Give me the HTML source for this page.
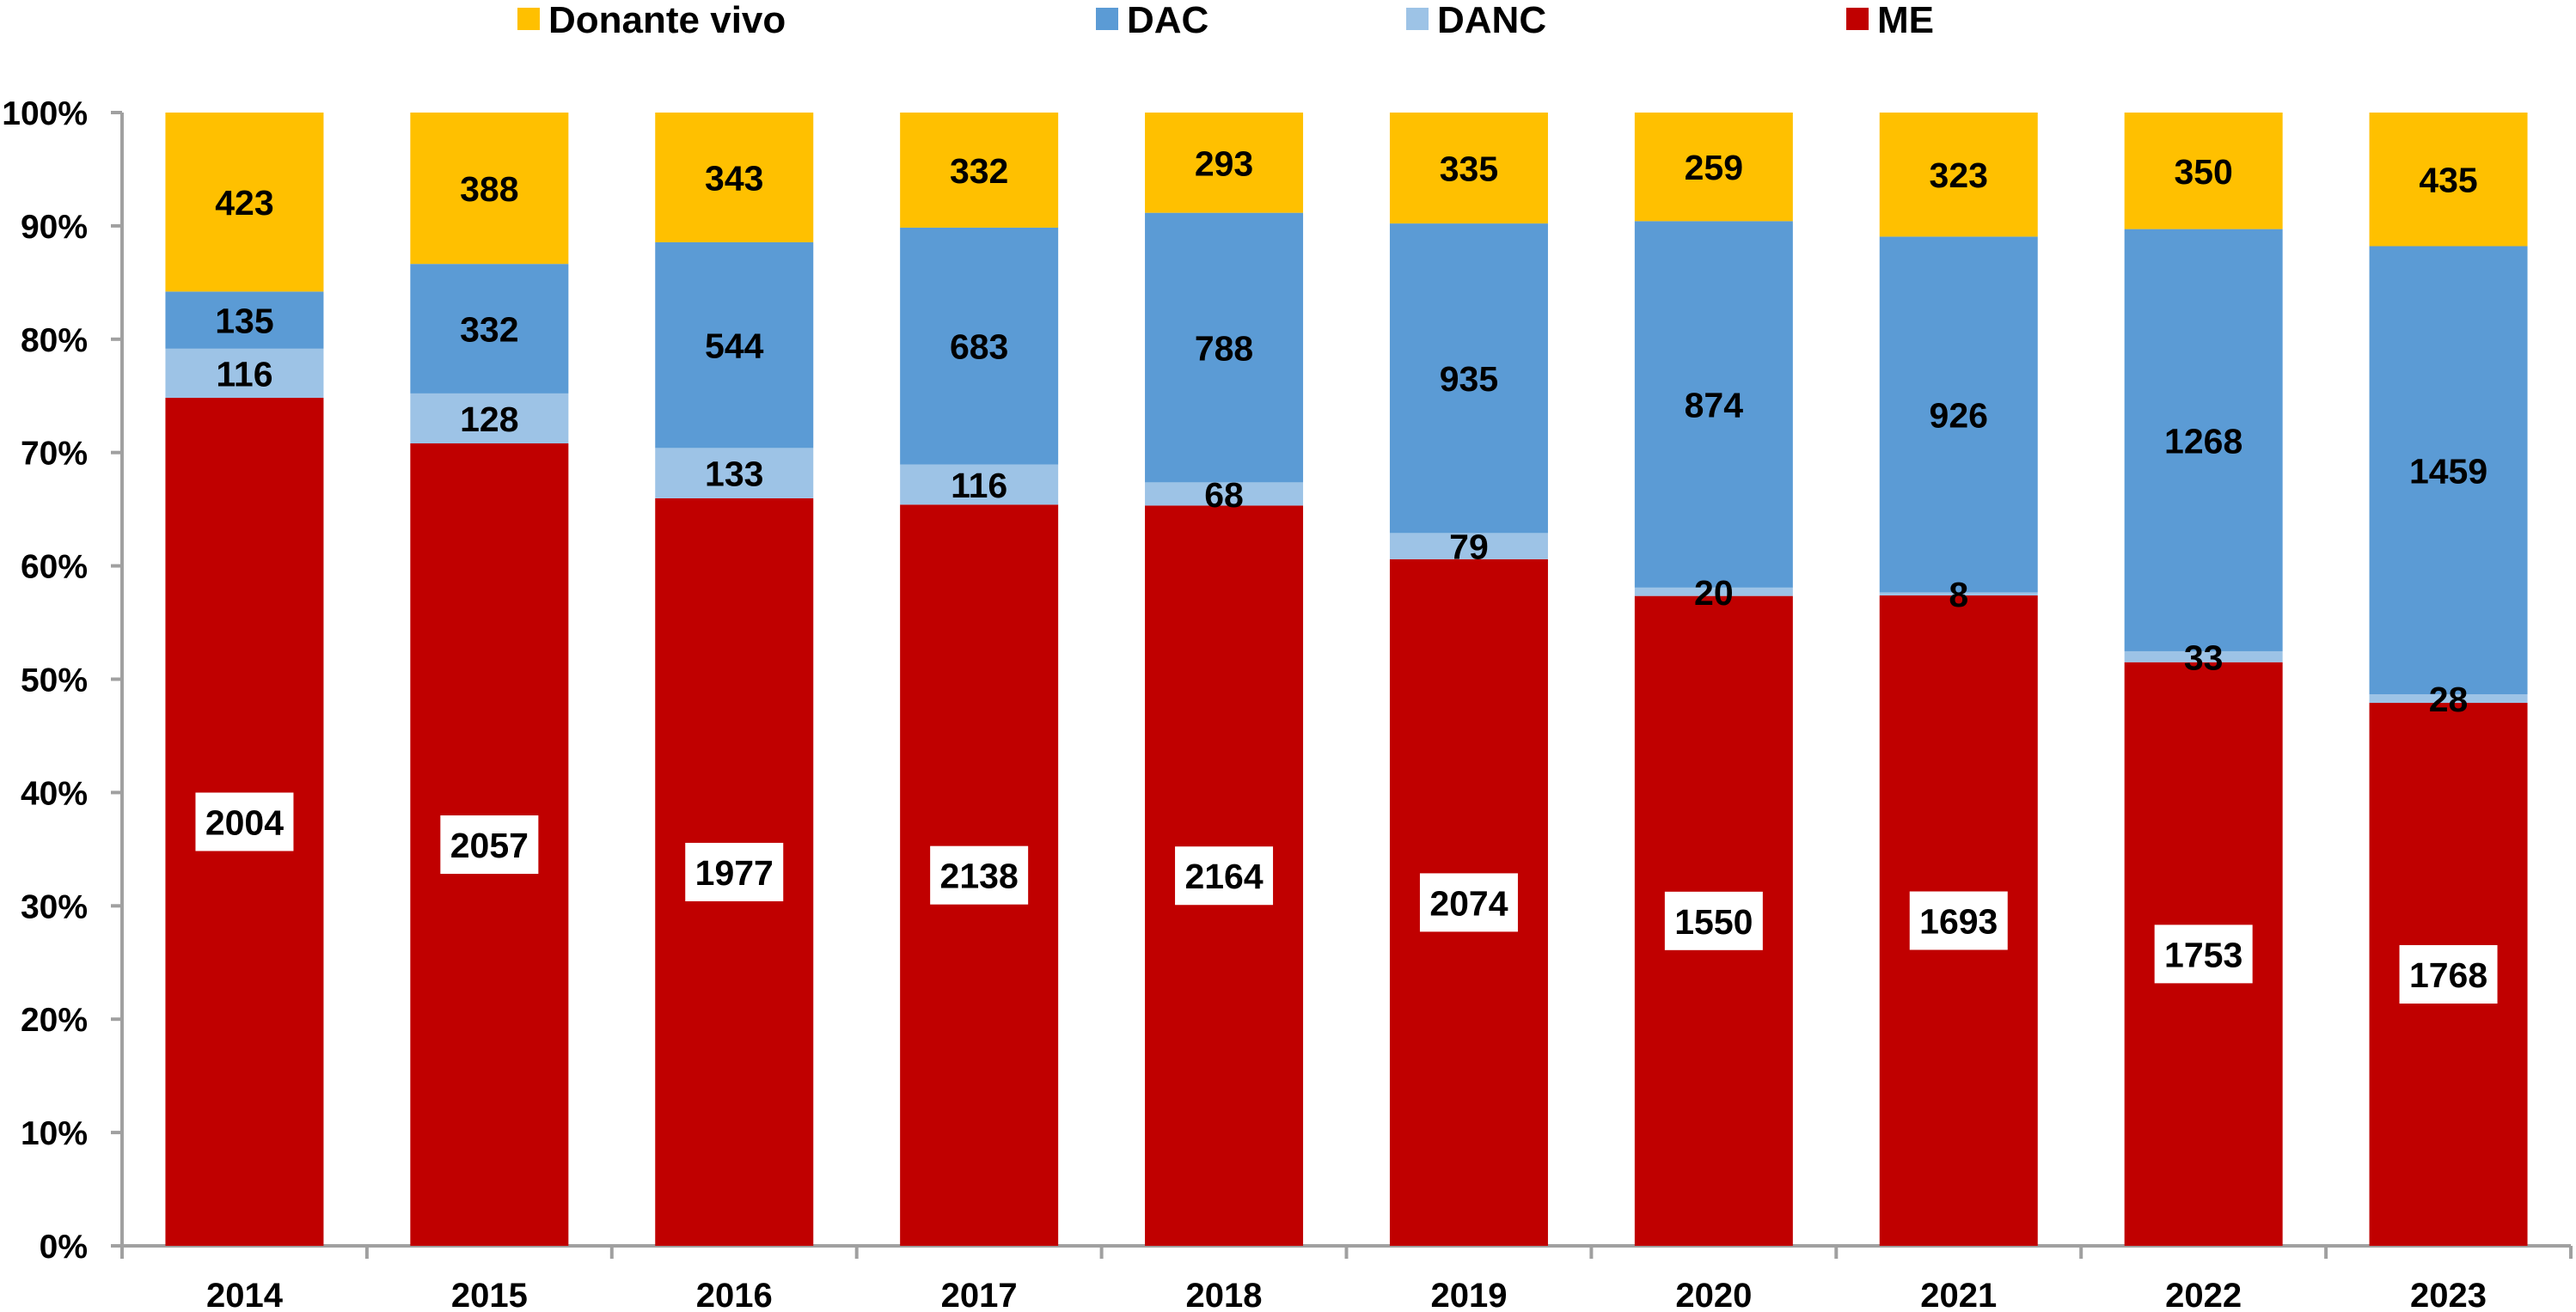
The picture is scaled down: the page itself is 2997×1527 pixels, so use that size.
<!DOCTYPE html>
<html><head><meta charset="utf-8"><style>
html,body{margin:0;padding:0;background:#fff;}
svg{display:block;font-family:"Liberation Sans",sans-serif;font-weight:bold;}
</style></head><body>
<svg id="chart" width="2997" height="1527" viewBox="0 0 2997 1527" xmlns="http://www.w3.org/2000/svg">
<g id="legend"></g>
<g id="axes"></g>
<g id="bars"></g>
<g id="labels"></g>
</svg>
<script>
const years = ["2014","2015","2016","2017","2018","2019","2020","2021","2022","2023"];
const me = [2004,2057,1977,2138,2164,2074,1550,1693,1753,1768];
const danc = [116,128,133,116,68,79,20,8,33,28];
const dac = [135,332,544,683,788,935,874,926,1268,1459];
const vivo = [423,388,343,332,293,335,259,323,350,435];
const yTicks = [0,10,20,30,40,50,60,70,80,90,100];
const seriesNames = ["Donante vivo","DAC","DANC","ME"];

const NS="http://www.w3.org/2000/svg";
const X0=142, X1=2991, Y0=1450, Y1=131, BW=184;
const catW=(X1-X0)/years.length;
function xC(i){return X0+catW*(i+0.5);}
function yP(p){return Y0-(Y0-Y1)*p/100;}
function mk(tag,attrs,parent){const e=document.createElementNS(NS,tag);for(const k in attrs)e.setAttribute(k,attrs[k]);parent.appendChild(e);return e;}
const axes=document.getElementById('axes'), bars=document.getElementById('bars'), labels=document.getElementById('labels'), legend=document.getElementById('legend');
const colors={vivo:"#FFC000",dac:"#5B9BD5",danc:"#9DC3E6",me:"#C00000"};

let l=mk('line',{x1:X0,y1:Y1,x2:X0,y2:Y0,stroke:"#A0A0A0","stroke-width":4},axes);


yTicks.forEach(t=>{
  const y=yP(t);
  let tk=mk('line',{x1:X0-13,y1:y,x2:X0,y2:y,stroke:"#A0A0A0","stroke-width":4},axes);
  
  
  let tx=mk('text',{x:102,y:y+14,"text-anchor":"end","font-size":39,fill:"#000"},axes);
  tx.textContent=t+"%";
  
  
});
l=mk('line',{x1:X0,y1:Y0,x2:X1,y2:Y0,stroke:"#A0A0A0","stroke-width":4},axes);


for(let i=0;i<=years.length;i++){
  const x=X0+catW*i;
  let tk=mk('line',{x1:x,y1:Y0,x2:x,y2:Y0+15,stroke:"#A0A0A0","stroke-width":4},axes);
  
  
}
years.forEach((yr,i)=>{
  let tx=mk('text',{x:xC(i),y:1521,"text-anchor":"middle","font-size":40,fill:"#000"},axes);
  tx.textContent=yr;
  
  
});

years.forEach((yr,i)=>{
  const tot=me[i]+danc[i]+dac[i]+vivo[i];
  const segs=[["me",me[i]],["danc",danc[i]],["dac",dac[i]],["vivo",vivo[i]]];
  let acc=0;
  segs.forEach(([k,v])=>{
    const p0=acc/tot*100, p1=(acc+v)/tot*100; acc+=v;
    const yt=yP(p1), yb=yP(p0);
    let r=mk('rect',{x:xC(i)-BW/2,y:yt,width:BW,height:yb-yt,fill:colors[k]},bars);
    
    
    let cy=(yt+yb)/2;
    if(k==="me"){
      let b=mk('rect',{x:xC(i)-57,y:cy-34,width:114,height:68,fill:"#fff"},labels);
      
      
    }
    let t=mk('text',{x:xC(i),y:cy+15,"text-anchor":"middle","font-size":41,fill:"#000"},labels);
    t.textContent=v;
    
    
  });
});

const legX=[602,1275,1636,2148];
const legC=[colors.vivo,colors.dac,colors.danc,colors.me];
seriesNames.forEach((n,i)=>{
  let s=mk('rect',{x:legX[i],y:9,width:26,height:26,fill:legC[i]},legend);
  
  
  let t=mk('text',{x:legX[i]+36,y:38,"font-size":44,fill:"#000"},legend);
  t.textContent=n;
  
  
});
</script>
</body></html>
